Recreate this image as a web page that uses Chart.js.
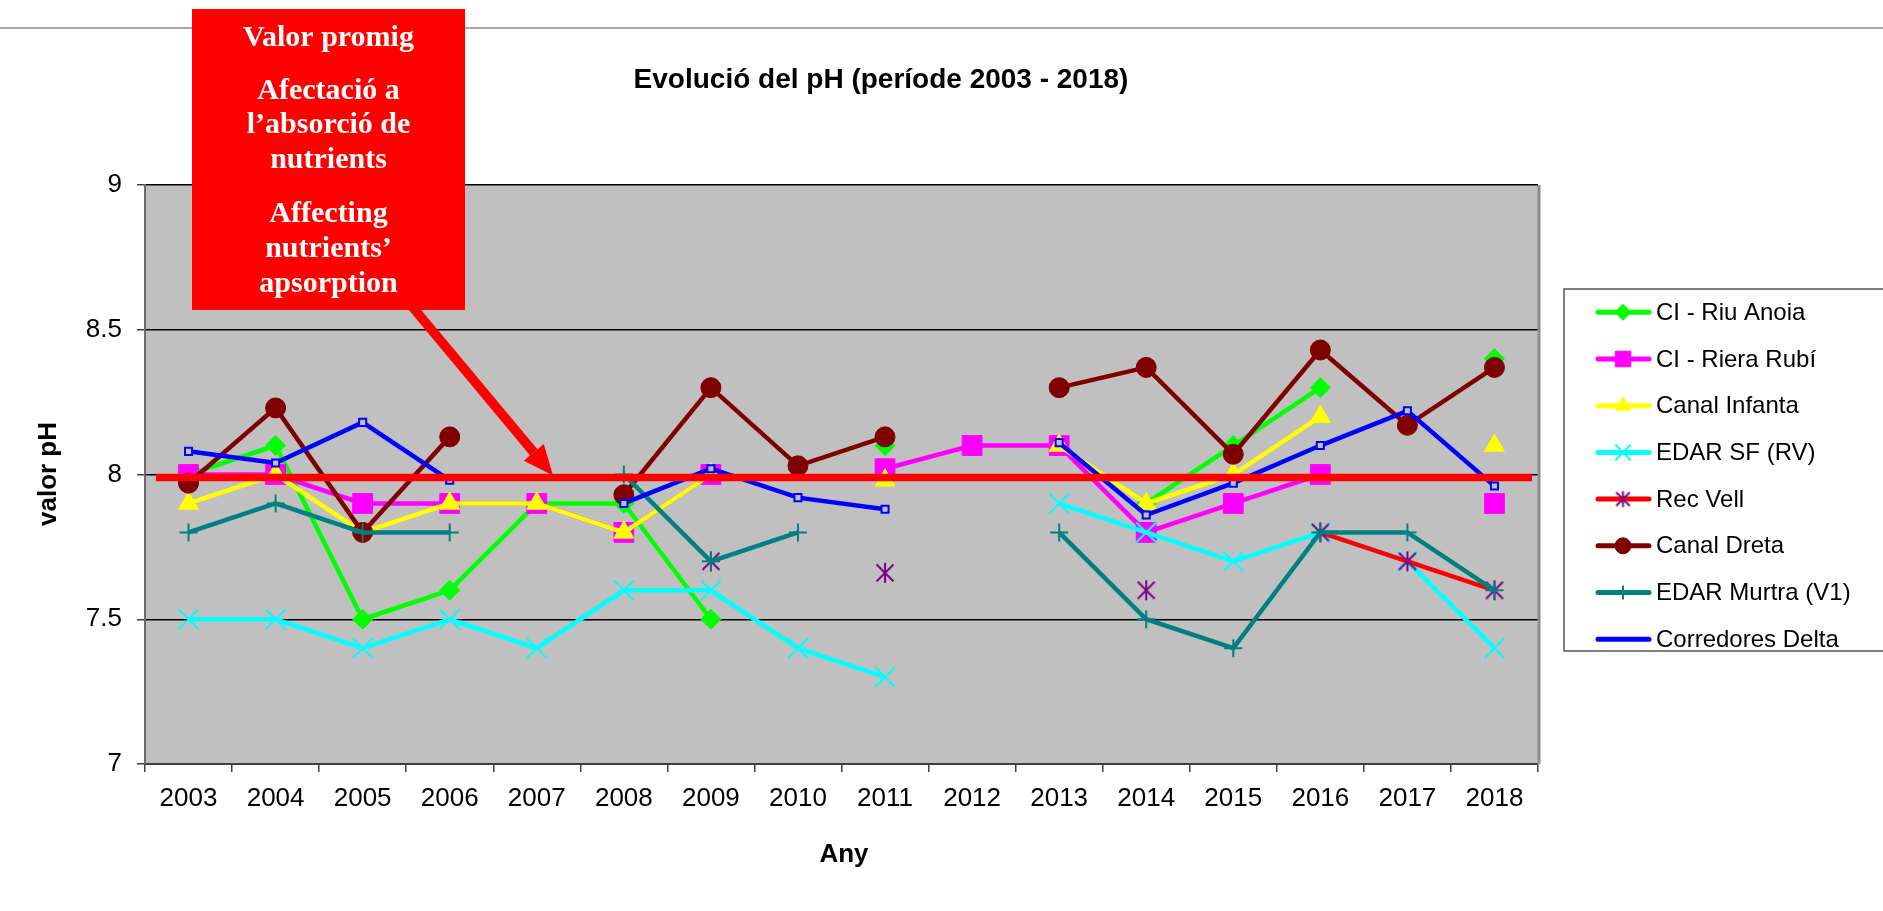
<!DOCTYPE html>
<html>
<head>
<meta charset="utf-8">
<script src="https://cdn.jsdelivr.net/npm/chart.js"></script>
<style>
  body { margin: 0; background: #fff; }
  #wrap { position: relative; width: 1883px; height: 911px; }
</style>
</head>
<body>
<div id="wrap"><canvas id="c" width="1883" height="911"></canvas></div>
<script>
// categories
const years = ['2003','2004','2005','2006','2007','2008','2009','2010','2011','2012','2013','2014','2015','2016','2017','2018'];
const yTicks = [7, 7.5, 8, 8.5, 9];

// pH values per station, null = no sample that year
const riuAnoia    = [8.0, 8.1, 7.5, 7.6, 7.9, 7.9, 7.5, null, 8.1, null, null, 7.9, 8.1, 8.3, null, 8.4];
const rieraRubi   = [8.0, 8.0, 7.9, 7.9, 7.9, 7.8, 8.0, null, 8.02, 8.1, 8.1, 7.8, 7.9, 8.0, null, 7.9];
const canalInf    = [7.9, 8.0, 7.8, 7.9, 7.9, 7.8, 8.0, null, 7.98, null, 8.1, 7.9, 8.0, 8.2, null, 8.1];
const edarSF      = [7.5, 7.5, 7.4, 7.5, 7.4, 7.6, 7.6, 7.4, 7.3, null, 7.9, 7.8, 7.7, 7.8, 7.7, 7.4];
const recVell     = [null, null, null, null, null, null, 7.7, null, 7.66, null, null, 7.6, null, 7.8, 7.7, 7.6];
const canalDreta  = [7.97, 8.23, 7.8, 8.13, null, 7.93, 8.3, 8.03, 8.13, null, 8.3, 8.37, 8.07, 8.43, 8.17, 8.37];
const edarMurtra  = [7.8, 7.9, 7.8, 7.8, null, 8.0, 7.7, 7.8, null, null, 7.8, 7.5, 7.4, 7.8, 7.8, 7.6];
const corrDelta   = [8.08, 8.04, 8.18, 7.98, null, 7.9, 8.02, 7.92, 7.88, null, 8.11, 7.86, 7.97, 8.1, 8.22, 7.96];

const avgPH = 7.99; // "Valor promig" line

const boxLines = ['Valor promig', 'Afectació a', 'l\u2019absorció de', 'nutrients', 'Affecting', 'nutrients\u2019', 'apsorption'];
const boxBaselines = [46, 99, 133, 168, 222, 257, 292];

// excel style asterisk marker
function makeAsterisk(scale) {
  const s = Math.round(24 * scale), cv = document.createElement('canvas');
  cv.width = s; cv.height = s;
  const g = cv.getContext('2d'), m = s / 2, a = 8.5 * scale, v = 10 * scale;
  g.strokeStyle = '#800080'; g.lineWidth = 2;
  g.beginPath();
  g.moveTo(m - a, m - a); g.lineTo(m + a, m + a);
  g.moveTo(m + a, m - a); g.lineTo(m - a, m + a);
  g.moveTo(m, m - v); g.lineTo(m, m + v);
  g.stroke();
  return cv;
}
const asterisk = makeAsterisk(1);
const asteriskSmall = makeAsterisk(0.8);

function ds(label, data, color, style, radius, extra) {
  return Object.assign({
    label: label, data: data,
    borderColor: color, backgroundColor: color,
    pointBackgroundColor: color, pointBorderColor: color,
    borderWidth: 4.5, pointStyle: style, pointRadius: radius,
    pointBorderWidth: 1, spanGaps: false, tension: 0
  }, extra || {});
}

const datasets = [
  ds('CI - Riu Anoia', riuAnoia, '#00ff00', 'rectRot', 10),
  ds('CI - Riera Rubí', rieraRubi, '#ff00ff', 'rect', 14),
  ds('Canal Infanta', canalInf, '#ffff00', 'triangle', 11.5),
  ds('EDAR SF (RV)', edarSF, '#00ffff', 'crossRot', 14, { pointBorderWidth: 2 }),
  ds('Rec Vell', recVell, '#ff0000', asterisk, 10, { pointBorderColor: '#800080', pointBackgroundColor: '#800080' }),
  ds('Canal Dreta', canalDreta, '#800000', 'circle', 10),
  ds('EDAR Murtra (V1)', edarMurtra, '#008080', 'cross', 9, { pointBorderWidth: 2 }),
  ds('Corredores Delta', corrDelta, '#0000ff', 'rect', 5, { pointBackgroundColor: '#c0c0c0', pointBorderWidth: 2 })
];
datasets.forEach((d, i) => { d.order = -i; });

const legendMarks = ['rectRot', 'rect', 'triangle', 'crossRot', asteriskSmall, 'circle', 'cross', null];
const legendRadius = [8, 11, 9, 11, 8, 8, 7, 0];

const decor = {
  id: 'decor',
  beforeDraw(chart) {
    const c = chart.ctx, a = chart.chartArea;
    c.save();
    c.fillStyle = '#fff';
    c.fillRect(0, 0, chart.width, chart.height);
    c.fillStyle = '#c0c0c0';
    c.fillRect(a.left, a.top, a.right - a.left, a.bottom - a.top);
    c.restore();
  },
  afterDatasetsDraw(chart) {
    const c = chart.ctx, a = chart.chartArea, y = chart.scales.y;
    c.save();
    // right edge of plot
    c.strokeStyle = '#8c8c8c'; c.lineWidth = 3;
    c.beginPath(); c.moveTo(a.right + 1, a.top); c.lineTo(a.right + 1, a.bottom); c.stroke();

    // mean value line
    const yp = y.getPixelForValue(avgPH);
    c.strokeStyle = '#ff0000'; c.lineWidth = 7.5;
    c.beginPath(); c.moveTo(a.left + 11, yp); c.lineTo(a.right - 6, yp); c.stroke();

    // top rule
    c.strokeStyle = '#888'; c.lineWidth = 1.5;
    c.beginPath(); c.moveTo(0, 28); c.lineTo(chart.width, 28); c.stroke();

    // arrow
    const x0 = 400, y0 = 292, x1 = 553, y1 = yp - 2;
    const ang = Math.atan2(y1 - y0, x1 - x0), hl = 30, hw = 13;
    const bx = x1 - Math.cos(ang) * hl, by = y1 - Math.sin(ang) * hl;
    c.strokeStyle = '#ff0000'; c.fillStyle = '#ff0000'; c.lineWidth = 9.5;
    c.beginPath(); c.moveTo(x0, y0); c.lineTo(bx, by); c.stroke();
    c.beginPath();
    c.moveTo(x1, y1);
    c.lineTo(bx + Math.sin(ang) * hw, by - Math.cos(ang) * hw);
    c.lineTo(bx - Math.sin(ang) * hw, by + Math.cos(ang) * hw);
    c.closePath(); c.fill();

    // red box with note
    c.fillStyle = '#ff0000';
    c.fillRect(192, 9, 273, 301);
    c.fillStyle = '#fff';
    c.font = 'bold 30px "Liberation Serif", "Times New Roman", serif';
    c.textAlign = 'center'; c.textBaseline = 'alphabetic';
    boxLines.forEach((t, i) => c.fillText(t, 328.5, boxBaselines[i]));

    // titles
    c.fillStyle = '#000';
    c.font = 'bold 28px "Liberation Sans", Arial, sans-serif';
    c.fillText('Evolució del pH (període 2003 - 2018)', 881, 88);
    c.font = 'bold 26px "Liberation Sans", Arial, sans-serif';
    c.fillText('Any', 844, 862);
    c.save();
    c.translate(55.5, 474); c.rotate(-Math.PI / 2);
    c.fillText('valor pH', 0, 0);
    c.restore();

    // legend
    c.strokeStyle = '#555'; c.lineWidth = 1.5;
    c.strokeRect(1564, 289, 330, 362);
    c.font = '24px "Liberation Sans", Arial, sans-serif';
    c.textAlign = 'left'; c.textBaseline = 'middle';
    chart.data.datasets.forEach((d, i) => {
      const ly = 312.3 + i * 46.7;
      c.strokeStyle = d.borderColor; c.lineWidth = 5; c.lineCap = 'round';
      c.beginPath(); c.moveTo(1598, ly); c.lineTo(1649, ly); c.stroke();
      c.lineCap = 'butt';
      if (legendMarks[i]) {
        c.fillStyle = d.pointBackgroundColor; c.strokeStyle = d.pointBorderColor;
        c.lineWidth = d.pointBorderWidth;
        Chart.helpers.drawPoint(c, { pointStyle: legendMarks[i], radius: legendRadius[i], borderWidth: d.pointBorderWidth, rotation: 0 }, 1623, ly);
      }
      c.fillStyle = '#000';
      c.fillText(d.label, 1656, ly + 1);
    });
    c.restore();
  }
};

new Chart(document.getElementById('c'), {
  type: 'line',
  data: { labels: years, datasets: datasets },
  plugins: [decor],
  options: {
    responsive: false,
    animation: false,
    events: [],
    devicePixelRatio: 1,
    layout: { padding: { top: 185, right: 345, bottom: 87, left: 0 } },
    plugins: { legend: { display: false }, title: { display: false }, tooltip: { enabled: false } },
    scales: {
      x: {
        offset: true,
        afterFit(s) { s.height = 60; },
        grid: { offset: true, drawOnChartArea: false, drawTicks: true, tickLength: 8, color: '#404040', lineWidth: 1.5 },
        border: { color: '#404040', width: 2 },
        ticks: { color: '#000', padding: 11, maxRotation: 0, autoSkip: false, font: { family: '"Liberation Sans", Arial, sans-serif', size: 26 } }
      },
      y: {
        min: 7, max: 9,
        afterFit(s) { s.width = 145; },
        afterBuildTicks(s) { s.ticks = yTicks.map(v => ({ value: v })); },
        grid: { color: '#000', lineWidth: 1.5, tickLength: 8, tickColor: '#404040' },
        border: { color: '#6a6a6a', width: 2 },
        ticks: { color: '#000', padding: 15, callback: v => String(v), font: { family: '"Liberation Sans", Arial, sans-serif', size: 26 } }
      }
    }
  }
});
</script>
</body>
</html>
